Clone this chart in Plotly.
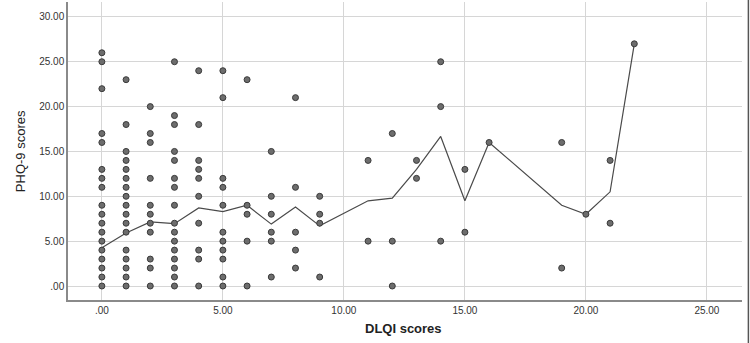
import plotly.graph_objects as go

# DLQI score columns and the PHQ-9 scores observed at each
dlqi_levels = [0, 1, 2, 3, 4, 5, 6, 7, 8, 9, 11, 12, 13, 14, 15, 16, 19, 20, 21, 22]
phq9_by_level = [
    [26, 25, 22, 17, 16, 13, 12, 11, 9, 8, 7, 6, 5, 4, 3, 2, 1, 0],
    [23, 18, 15, 14, 13, 12, 11, 10, 9, 8, 7, 6, 4, 3, 2, 1, 0],
    [20, 17, 16, 12, 9, 8, 7, 6, 3, 2, 0],
    [25, 19, 18, 15, 14, 12, 11, 9, 7, 6, 5, 4, 3, 2, 1, 0],
    [24, 18, 14, 13, 12, 10, 7, 4, 3, 0],
    [24, 21, 12, 11, 9, 6, 5, 4, 3, 1, 0],
    [23, 9, 8, 5, 0],
    [15, 10, 8, 6, 5, 1],
    [21, 11, 6, 4, 2],
    [10, 8, 7, 1],
    [14, 5],
    [17, 5, 0],
    [14, 12],
    [25, 20, 5],
    [13, 6],
    [16],
    [16, 2],
    [8],
    [14, 7],
    [27],
]
# mean PHQ-9 per DLQI level (line)
mean_phq9 = [4.27, 5.9, 7.15, 6.95, 8.7, 8.3, 9.0, 6.9, 8.8, 6.7,
             9.5, 9.8, 13.0, 16.67, 9.5, 16.0, 9.0, 8.0, 10.5, 27.0]

x_ticks = [0, 5, 10, 15, 20, 25]
x_tick_labels = [".00", "5.00", "10.00", "15.00", "20.00", "25.00"]
y_ticks = [0, 5, 10, 15, 20, 25, 30]
y_tick_labels = [".00", "5.00", "10.00", "15.00", "20.00", "25.00", "30.00"]

pts_x, pts_y = [], []
for lvl, ys in zip(dlqi_levels, phq9_by_level):
    for v in ys:
        pts_x.append(lvl)
        pts_y.append(v)

fig = go.Figure()
fig.add_trace(go.Scatter(
    x=dlqi_levels, y=mean_phq9, mode="lines",
    line=dict(color="#4a4a4a", width=1.2), hoverinfo="skip", showlegend=False))
fig.add_trace(go.Scatter(
    x=pts_x, y=pts_y, mode="markers",
    marker=dict(size=6, color="#6d6d6d", line=dict(color="#3a3a3a", width=1)),
    showlegend=False))

font_family = "Liberation Sans, Arial, sans-serif"
fig.update_layout(
    width=750, height=343,
    margin=dict(l=68, r=8, t=2, b=43, autoexpand=False),
    paper_bgcolor="white", plot_bgcolor="white",
    font=dict(family=font_family, color="#333333"),
    xaxis=dict(
        range=[-1.40, 26.45], tickvals=x_ticks, ticktext=x_tick_labels,
        showgrid=True, gridcolor="#d6d6d6", gridwidth=1.3, automargin=False,
        zeroline=False, showline=True, linecolor="#8a8a8a", linewidth=1.5,
        ticks="", tickfont=dict(size=10, color="#333333"),
    ),
    yaxis=dict(
        range=[-1.56, 31.66], tickvals=y_ticks, ticktext=y_tick_labels,
        showgrid=True, gridcolor="#d6d6d6", gridwidth=1.3, automargin=False,
        zeroline=False, showline=True, linecolor="#8a8a8a", linewidth=1.5,
        ticks="", tickfont=dict(size=10, color="#333333"),
    ),
    annotations=[
        dict(text="<b>DLQI scores</b>", xref="paper", yref="paper",
             x=0.4985, y=-0.097, xanchor="center", yanchor="middle",
             showarrow=False, font=dict(size=13, color="#222222")),
        dict(text="PHQ-9 scores", xref="paper", yref="paper",
             x=-0.071, y=0.5, xanchor="center", yanchor="middle", textangle=-90,
             showarrow=False, font=dict(size=13, color="#222222")),
    ],
    shapes=[dict(type="line", xref="paper", yref="paper",
                 x0=1.0095, x1=1.0095, y0=-0.15, y1=1.01,
                 line=dict(color="#555555", width=1.5))],
)

fig.write_html("out.html",
               config={"displayModeBar": False},
               post_script="document.body.style.margin='0';document.body.style.overflow='hidden';")
